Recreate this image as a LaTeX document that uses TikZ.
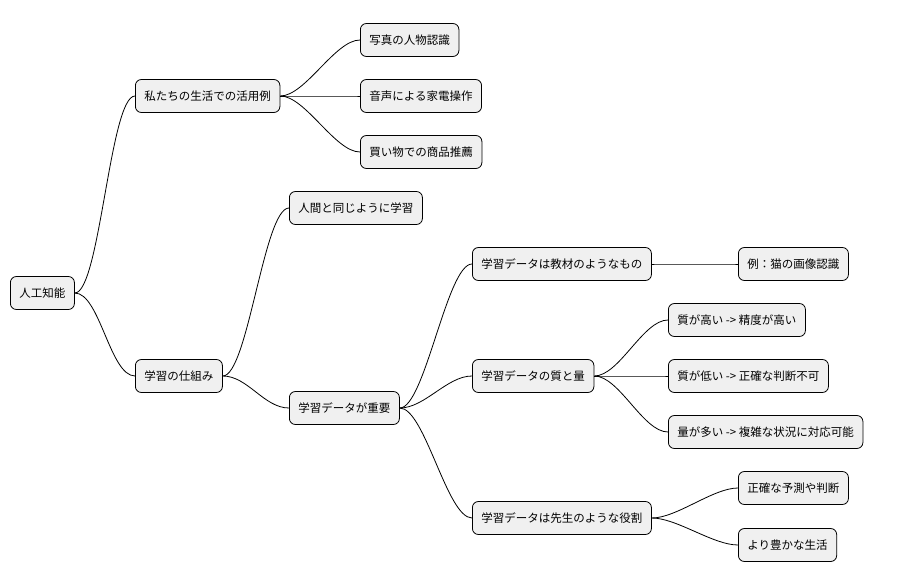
\documentclass[tikz,border=0pt]{standalone}
\usepackage{fontspec}
\setmainfont{Noto Sans CJK JP}
\begin{document}
\begin{tikzpicture}[x=1pt,y=-1pt]
\tikzset{
  topic/.style={draw=black, line width=0.8pt, fill=black!6, rounded corners=6pt,
    anchor=west, minimum height=33pt, inner xsep=9pt, font=\fontsize{11.5}{13}\selectfont},
  link/.style={line width=0.8pt}
}
\useasboundingbox (0,0) rectangle (920,583);
% root and branches
\node[topic] (ai) at (10,293) {人工知能};
\node[topic] (use) at (135,96) {私たちの生活での活用例};
\node[topic] (photo) at (360,40) {写真の人物認識};
\node[topic] (voice) at (360,96) {音声による家電操作};
\node[topic] (shop) at (360,152) {買い物での商品推薦};
\node[topic] (mech) at (135,376) {学習の仕組み};
\node[topic] (human) at (289,208) {人間と同じように学習};
\node[topic] (data) at (289,408) {学習データが重要};
\node[topic] (text) at (472,264) {学習データは教材のようなもの};
\node[topic] (cat) at (738,264) {例：猫の画像認識};
\node[topic] (qual) at (472,376) {学習データの質と量};
\node[topic] (high) at (668,320) {質が高い -> 精度が高い};
\node[topic] (low) at (668,376) {質が低い -> 正確な判断不可};
\node[topic] (many) at (668,432) {量が多い -> 複雑な状況に対応可能};
\node[topic] (teach) at (472,518) {学習データは先生のような役割};
\node[topic] (pred) at (738,488) {正確な予測や判断};
\node[topic] (rich) at (738,545) {より豊かな生活};
% connectors
\foreach \a/\b in {ai/use, ai/mech, use/photo, use/voice, use/shop,
    mech/human, mech/data, data/text, text/cat, data/qual,
    qual/high, qual/low, qual/many, data/teach, teach/pred, teach/rich}
  \draw[link] (\a.east) .. controls +(25,0) and +(-25,0) .. (\b.west);
\end{tikzpicture}
\end{document}
